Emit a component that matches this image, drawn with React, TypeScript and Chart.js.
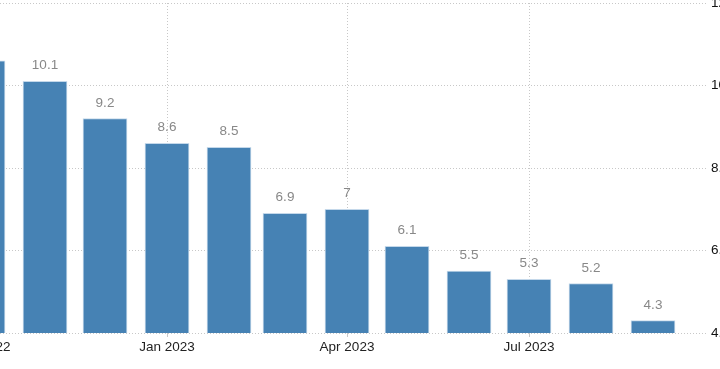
import { useEffect, useRef } from 'react';
import { Chart, registerables } from 'chart.js';

Chart.register(...registerables);

// Data (monthly values)
const months = [
  '2022-10', '2022-11', '2022-12', '2023-01', '2023-02', '2023-03',
  '2023-04', '2023-05', '2023-06', '2023-07', '2023-08', '2023-09',
];
const inflation = [10.6, 10.1, 9.2, 8.6, 8.5, 6.9, 7, 6.1, 5.5, 5.3, 5.2, 4.3];

// Axis ticks
const tickMonths = ['2022-10', '2023-01', '2023-04', '2023-07'];
const tickLabels = ['Oct 2022', 'Jan 2023', 'Apr 2023', 'Jul 2023'];
const yTicks = [4, 6, 8, 10, 12];

const DAY = 86400000;
const ORIGIN = Date.UTC(2023, 0, 1);
function dayIndex(m: string): number {
  const [y, mo] = m.split('-').map(Number);
  return Math.round((Date.UTC(y, mo - 1, 1) - ORIGIN) / DAY);
}

const FONT = '"Liberation Sans", Arial, sans-serif';

const valueLabels = {
  id: 'valueLabels',
  afterDatasetsDraw(chart: any) {
    const ctx = chart.ctx;
    const meta = chart.getDatasetMeta(0);
    ctx.save();
    ctx.font = `13.5px ${FONT}`;
    ctx.fillStyle = '#888888';
    ctx.textAlign = 'center';
    ctx.textBaseline = 'alphabetic';
    meta.data.forEach((el: any, i: number) => {
      ctx.fillText(String(inflation[i]), el.x, el.y - 12);
    });
    ctx.restore();
  },
};

export default function App() {
  const ref = useRef<HTMLCanvasElement | null>(null);

  useEffect(() => {
    if (!ref.current) return;
    Chart.defaults.font.family = FONT;
    Chart.defaults.font.size = 13;
    const chart = new Chart(ref.current, {
      type: 'bar',
      data: {
        datasets: [
          {
            data: months.map((m, i) => ({ x: dayIndex(m), y: inflation[i] })),
            backgroundColor: '#4682b4',
            borderColor: 'rgba(190,212,232,0.9)',
            borderWidth: 1,
            barThickness: 44,
          },
        ],
      },
      options: {
        animation: false,
        responsive: false,
        maintainAspectRatio: false,
        layout: { padding: { left: 10, top: 3, right: 0, bottom: 0 } },
        plugins: {
          legend: { display: false },
          tooltip: { enabled: false },
        },
        scales: {
          x: {
            type: 'linear',
            offset: false,
            min: -128.5,
            max: 269.5,
            afterBuildTicks: (scale: any) => {
              scale.ticks = tickMonths.map((m) => ({ value: dayIndex(m) }));
            },
            afterFit: (scale: any) => {
              scale.height = 36;
              scale.paddingLeft = 0;
              scale.paddingRight = 0;
            },
            ticks: {
              autoSkip: false,
              maxRotation: 0,
              padding: 2,
              color: '#222',
              font: { size: 13.5 },
              callback: (v: any) => {
                const idx = tickMonths.findIndex((m) => dayIndex(m) === v);
                return idx >= 0 ? tickLabels[idx] : '';
              },
            },
            grid: {
              offset: false,
              color: '#c8c8c8',
              drawTicks: true,
              tickLength: 4,
            },
            border: { display: false, dash: [1, 2] },
          },
          y: {
            type: 'linear',
            position: 'right',
            min: 4,
            max: 12,
            afterBuildTicks: (scale: any) => {
              scale.ticks = yTicks.map((v) => ({ value: v }));
            },
            afterFit: (scale: any) => {
              scale.width = 14;
              scale.paddingTop = 0;
              scale.paddingBottom = 0;
            },
            ticks: {
              padding: 5,
              color: '#111',
              font: { size: 13.5 },
              callback: (v: any) => Number(v).toFixed(2),
            },
            grid: { color: '#c8c8c8', drawTicks: false },
            border: { display: false, dash: [1, 2] },
          },
        },
      },
      plugins: [valueLabels],
    });
    return () => chart.destroy();
  }, []);

  return (
    <div style={{ position: 'fixed', left: -100, top: 0, width: 820, height: 369, overflow: 'hidden' }}>
      <canvas ref={ref} width={820} height={369} style={{ width: 820, height: 369, display: 'block' }} />
    </div>
  );
}
